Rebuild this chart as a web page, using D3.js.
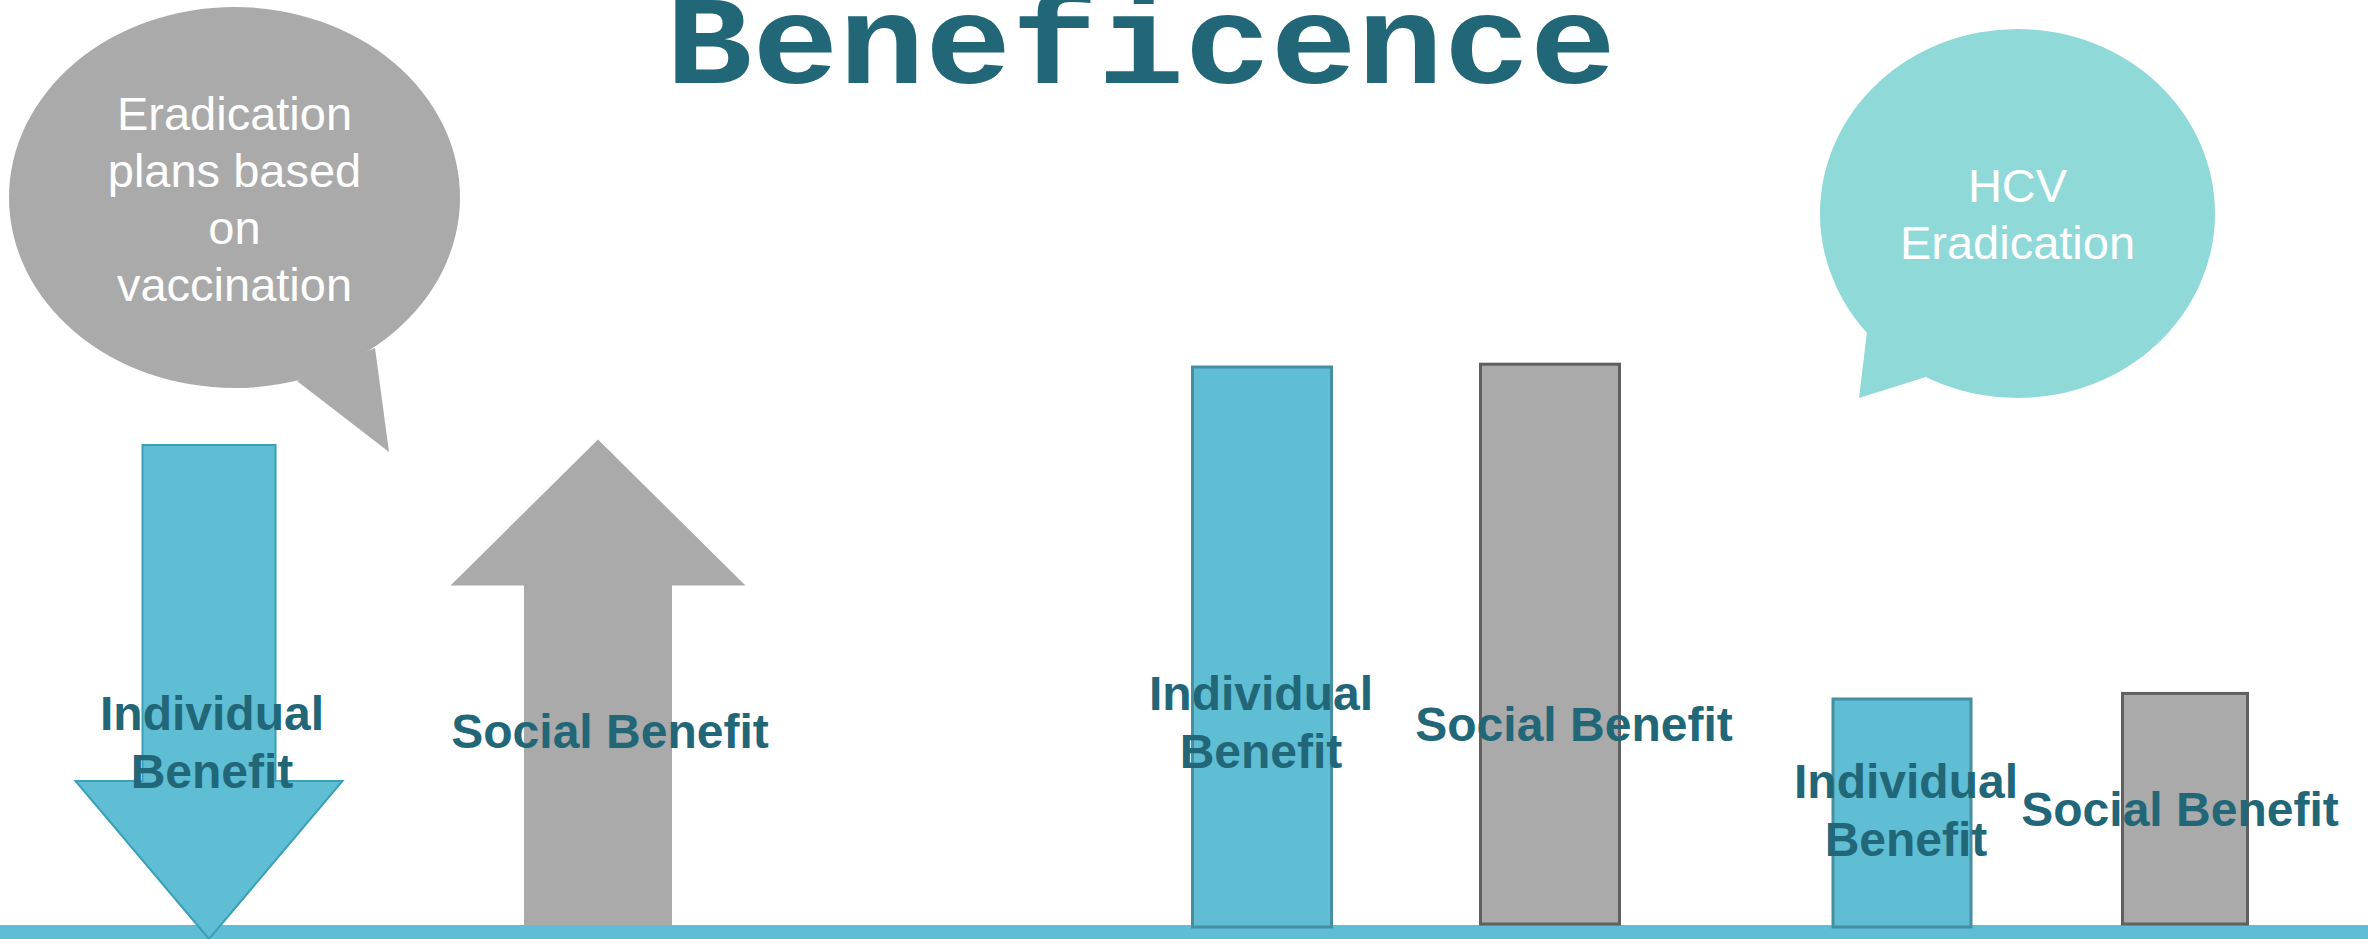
<!DOCTYPE html>
<html>
<head>
<meta charset="utf-8">
<script src="https://cdn.jsdelivr.net/npm/d3@7"></script>
<style>
  html, body { margin: 0; padding: 0; background: #fff; }
  svg { display: block; }
</style>
</head>
<body>
<svg id="chart" width="2368" height="939"></svg>
<script>
// --- data ---
var title = "Beneficence";
var benefitCategories = ["Individual Benefit", "Social Benefit"];
var scenarios = ["vaccination", "hcvNow", "hcvLater"];
var bubbleTexts = [
  ["Eradication", "plans based", "on", "vaccination"],
  ["HCV", "Eradication"]
];
// vaccination: arrow size and direction (-1 = down, 1 = up)
var vaccinationSize = [86, 87];
var vaccinationDirection = [-1, 1];
// HCV eradication: bar heights
var hcvNowValues = [100, 100.5];
var hcvLaterValues = [40.5, 41.5];

var svg = d3.select("#chart"),
    width = +svg.attr("width"),
    height = +svg.attr("height"),
    baseY = 925;

var darkTeal = "#216778",
    blue = "#5fbdd4",
    gray = "#aaaaaa";

var y = d3.scaleLinear().domain([0, 100]).range([baseY, 367]);

// slot centres for each mark, per scenario
var xMark = d3.scaleOrdinal()
  .domain(["vaccination-0", "vaccination-1", "hcvNow-0", "hcvNow-1", "hcvLater-0", "hcvLater-1"])
  .range([209, 598, 1262, 1550, 1902, 2185]);
var barWidth = d3.scaleOrdinal()
  .domain(["hcvNow-0", "hcvNow-1", "hcvLater-0", "hcvLater-1"])
  .range([139, 139, 138, 125]);
// label centre and first baseline
var labelPos = {
  "vaccination-0": [212, 730], "vaccination-1": [610, 748],
  "hcvNow-0": [1261, 710], "hcvNow-1": [1574, 741],
  "hcvLater-0": [1906, 798], "hcvLater-1": [2180, 826]
};

// bottom rule
svg.append("rect")
  .attr("x", 0).attr("y", baseY)
  .attr("width", width).attr("height", height - baseY)
  .attr("fill", blue);

// title (squashed a bit to get closer to Courier's low x-height)
svg.append("text")
  .attr("transform", "translate(1141,83) scale(1,0.87)")
  .attr("text-anchor", "middle")
  .style("font-family", "'Courier New', 'Liberation Mono', monospace")
  .style("font-weight", "bold")
  .style("font-size", "144px")
  .attr("fill", darkTeal)
  .text(title);

// speech bubbles
var bubbles = [
  { cx: 234.5, cy: 197.5, rx: 225.5, ry: 190.5, fill: gray,
    tail: [[297, 381], [389, 452], [375, 348]], lines: bubbleTexts[0], y0: 130 },
  { cx: 2017.5, cy: 213.5, rx: 197.5, ry: 184.5, fill: "#8fd9d9",
    tail: [[1867, 332], [1859, 398], [1926, 377]], lines: bubbleTexts[1], y0: 202 }
];
var bub = svg.selectAll("g.bubble").data(bubbles).enter().append("g").attr("class", "bubble");
bub.append("ellipse")
  .attr("cx", function(d) { return d.cx; })
  .attr("cy", function(d) { return d.cy; })
  .attr("rx", function(d) { return d.rx; })
  .attr("ry", function(d) { return d.ry; })
  .attr("fill", function(d) { return d.fill; });
bub.append("path")
  .attr("d", function(d) { return d3.line()(d.tail) + "Z"; })
  .attr("fill", function(d) { return d.fill; });
bub.each(function(d) {
  var t = d3.select(this).append("text")
    .attr("text-anchor", "middle")
    .style("font-family", "Arial, 'Liberation Sans', sans-serif")
    .style("font-size", "47px")
    .attr("fill", "#fff");
  t.selectAll("tspan").data(d.lines).enter().append("tspan")
    .attr("x", d.cx)
    .attr("y", function(l, i) { return d.y0 + i * 57; })
    .text(function(l) { return l; });
});

// vaccination arrows
var arrowData = vaccinationSize.map(function(v, i) {
  return { key: "vaccination-" + i, value: v, dir: vaccinationDirection[i], cat: i };
});
var arrowShape = [
  { shaft: 133, head: 267, headLen: 158 },
  { shaft: 148, head: 295, headLen: 146 }
];
svg.selectAll("path.arrow").data(arrowData).enter().append("path")
  .attr("class", "arrow")
  .attr("d", function(d) {
    var s = arrowShape[d.cat], cx = xMark(d.key), top = y(d.value);
    if (d.dir < 0) {
      var tip = height, hb = tip - s.headLen;
      return d3.line()([
        [cx - s.shaft / 2, top], [cx + s.shaft / 2, top], [cx + s.shaft / 2, hb],
        [cx + s.head / 2, hb], [cx, tip], [cx - s.head / 2, hb], [cx - s.shaft / 2, hb]
      ]) + "Z";
    }
    var hb2 = top + s.headLen, bottom = baseY;
    return d3.line()([
      [cx, top], [cx + s.head / 2, hb2], [cx + s.shaft / 2, hb2], [cx + s.shaft / 2, bottom],
      [cx - s.shaft / 2, bottom], [cx - s.shaft / 2, hb2], [cx - s.head / 2, hb2]
    ]) + "Z";
  })
  .attr("fill", function(d) { return d.cat === 0 ? blue : gray; })
  .attr("stroke", function(d) { return d.cat === 0 ? "#3a9fb9" : "none"; })
  .attr("stroke-width", 2);

// HCV bars
var barData = [];
hcvNowValues.forEach(function(v, i) { barData.push({ key: "hcvNow-" + i, value: v, cat: i }); });
hcvLaterValues.forEach(function(v, i) { barData.push({ key: "hcvLater-" + i, value: v, cat: i }); });

svg.selectAll("rect.bar").data(barData).enter().append("rect")
  .attr("class", "bar")
  .attr("x", function(d) { return xMark(d.key) - barWidth(d.key) / 2; })
  .attr("y", function(d) { return y(d.value); })
  .attr("width", function(d) { return barWidth(d.key); })
  .attr("height", function(d) { return y(0) - y(d.value) + (d.cat === 0 ? 2 : -1); })
  .attr("fill", function(d) { return d.cat === 0 ? blue : gray; })
  .attr("stroke", function(d) { return d.cat === 0 ? "#468fa3" : "#606060"; })
  .attr("stroke-width", 3);

// labels
var labels = arrowData.concat(barData);
labels.forEach(function(d) {
  var p = labelPos[d.key],
      words = d.cat === 0 ? benefitCategories[0].split(" ") : [benefitCategories[1]];
  var t = svg.append("text")
    .attr("text-anchor", "middle")
    .style("font-family", "Arial, 'Liberation Sans', sans-serif")
    .style("font-weight", "bold")
    .style("font-size", "48px")
    .attr("fill", darkTeal);
  t.selectAll("tspan").data(words).enter().append("tspan")
    .attr("x", p[0])
    .attr("y", function(w, i) { return p[1] + i * 58; })
    .text(function(w) { return w; });
});
</script>
</body>
</html>
